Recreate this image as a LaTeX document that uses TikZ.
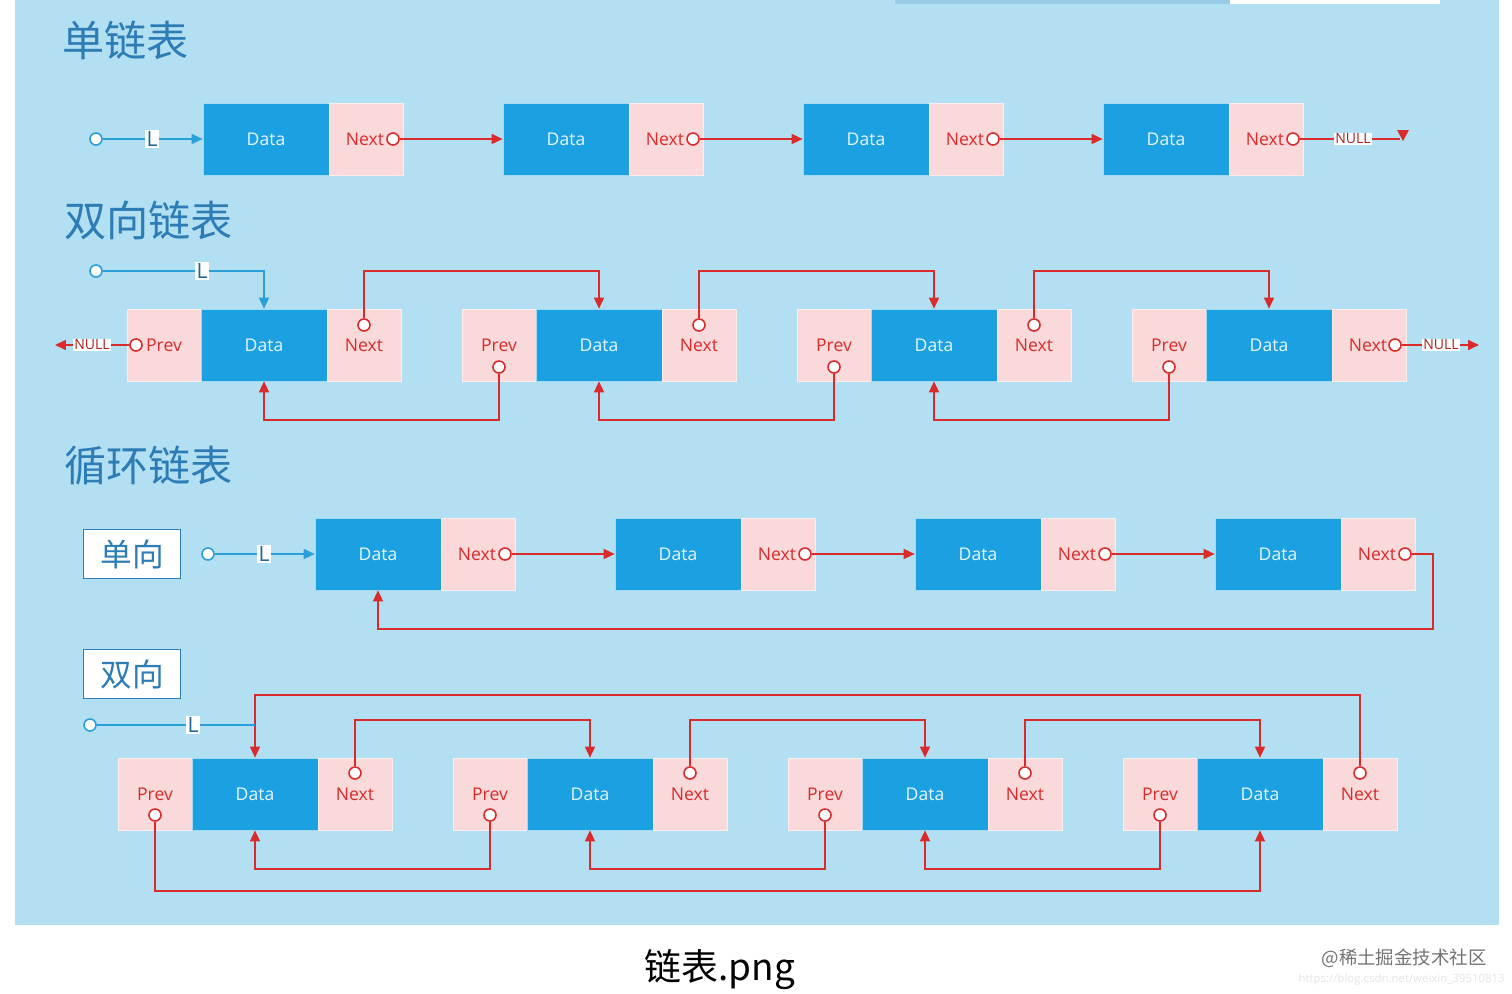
\documentclass[tikz,border=0pt]{standalone}
\usepackage{fontspec}
\setmainfont{Open Sans}
\newfontfamily\cjk{Noto Sans CJK SC}
\usetikzlibrary{arrows.meta,calc}
\definecolor{bgc}{HTML}{B3DFF2}
\definecolor{datac}{HTML}{1BA0E1}
\definecolor{pinkc}{HTML}{F9D9DA}
\definecolor{redc}{HTML}{D92B2B}
\definecolor{titlec}{HTML}{2C7DB5}
\definecolor{lblue}{HTML}{2A9FD8}
\begin{document}
\begin{tikzpicture}[x=0.02cm,y=-0.02cm,
  data/.style={rectangle,fill=datac,draw=white!60!datac,line width=0.4pt,minimum width=2.52cm,minimum height=1.44cm,inner sep=0,text=white!90!datac,font=\fontsize{10}{12}\selectfont},
  ptr/.style={rectangle,fill=pinkc,draw=white!50!pinkc,line width=0.4pt,minimum width=1.48cm,minimum height=1.44cm,inner sep=0},
  lab/.style={text=redc,font=\fontsize{10}{12}\selectfont,inner sep=0},
  dot/.style={circle,draw=redc,fill=white,line width=0.9pt,minimum size=0.24cm,inner sep=0},
  bdot/.style={circle,draw=lblue,fill=white,line width=0.9pt,minimum size=0.24cm,inner sep=0},
  ra/.style={draw=redc,line width=0.9pt,-{Triangle[length=0.22cm,width=0.2cm]}},
  rl/.style={draw=redc,line width=0.9pt},
  ba/.style={draw=lblue,line width=0.9pt,-{Triangle[length=0.22cm,width=0.2cm]}},
  bl/.style={draw=lblue,line width=0.9pt},
  Lbl/.style={fill=white,text=titlec!80!black,inner sep=0.8pt,font=\fontsize{12}{12}\selectfont},
  nul/.style={fill=white,text=redc!80!black,inner sep=0.6pt,font=\fontsize{8}{8}\selectfont},
  title/.style={text=titlec,anchor=west,inner sep=0,font=\cjk\fontsize{24}{26}\selectfont},
  tag/.style={rectangle,draw=titlec,fill=white,line width=1pt,minimum width=1.94cm,minimum height=0.98cm,text=titlec,font=\cjk\fontsize{18}{20}\selectfont}]
\useasboundingbox (0,0) rectangle (1512,994);
\fill[white] (0,0) rectangle (1512,994);
\fill[bgc] (15,0) rectangle (1499,925);
\fill[titlec!20!bgc] (895,0) rectangle (1230,4);
\fill[white] (1230,0) rectangle (1440,4);

% titles
\node[title] (t1) at (62,40) {单链表};
\node[title] (t2) at (64,220) {双向链表};
\node[title] (t3) at (64,466) {循环链表};

% ---------- single list ----------
\foreach \i/\x in {1/203,2/503,3/803,4/1103}{
  \node[data] (a\i) at (\x+63,139) {Data};
  \node[ptr] (an\i) at (\x+163,139) {};
  \node[lab] (ant\i) at (\x+162,139) {Next};
  \node[dot] (ac\i) at (\x+190,139) {};
}
\foreach \i [evaluate=\i as \j using int(\i+1)] in {1,2,3}{
  \draw[ra] (ac\i) -- (a\j.west);
}
\node[bdot] (s0) at (96,139) {};
\node[Lbl] (sL) at (152,139) {L};
\draw[bl] (s0) -- (sL);
\draw[ba] (sL) -- (a1.west);
\node[nul] (sn) at (1353,139) {NULL};
\coordinate (send) at (1400,139);
\draw[rl] (ac4) -- (sn) -- (send);
\fill[redc] (1397,130) -- (1409,130) -- (1403,141) -- cycle;

% ---------- doubly list ----------
\coordinate (y2a) at (0,271);
\coordinate (y2b) at (0,420);
\foreach \i/\x in {1/127,2/462,3/797,4/1132}{
  \node[ptr] (bp\i) at (\x+37,345) {};
  \node[data] (bd\i) at (\x+137,345) {Data};
  \node[ptr] (bn\i) at (\x+237,345) {};
}
\foreach \i in {2,3,4}{
  \node[lab] (bpt\i) at (bp\i) {Prev};
  \node[dot] (bpc\i) at ($(bp\i)+(0,22)$) {};
}
\foreach \i in {1,2,3}{
  \node[lab] (bnt\i) at (bn\i) {Next};
  \node[dot] (bnc\i) at ($(bn\i)+(0,-20)$) {};
}
\node[lab] (bpt1) at (164,345) {Prev};
\node[dot] (bpc1) at (136,345) {};
\node[lab] (bnt4) at (1368,345) {Next};
\node[dot] (bnc4) at (1395,345) {};
\foreach \i [evaluate=\i as \j using int(\i+1)] in {1,2,3}{
  \draw[ra] (bnc\i.north) -- (bnc\i |- y2a) -| (bd\j.north);
  \draw[ra] (bpc\j.south) -- (bpc\j |- y2b) -| (bd\i.south);
}
\node[nul] (bnl) at (92,345) {NULL};
\coordinate (bnle) at (55,345);
\draw[rl] (bpc1) -- (bnl);
\draw[ra] (bnl) -- (bnle);
\node[nul] (bnr) at (1441,345) {NULL};
\coordinate (bnre) at (1479,345);
\draw[rl] (bnc4) -- (bnr);
\draw[ra] (bnr) -- (bnre);
\node[bdot] (d0) at (96,271) {};
\node[Lbl] (dL) at (202,271) {L};
\draw[bl] (d0) -- (dL);
\draw[ba] (dL) -- (dL -| bd1) -- (bd1.north);

% ---------- circular single ----------
\node[tag] (tg1) at (132,554) {单向};
\node[tag] (tg2) at (132,674) {双向};
\foreach \i/\x in {1/315,2/615,3/915,4/1215}{
  \node[data] (c\i) at (\x+63,554) {Data};
  \node[ptr] (cn\i) at (\x+163,554) {};
  \node[lab] (cnt\i) at (\x+162,554) {Next};
  \node[dot] (cc\i) at (\x+190,554) {};
}
\foreach \i [evaluate=\i as \j using int(\i+1)] in {1,2,3}{
  \draw[ra] (cc\i) -- (c\j.west);
}
\coordinate (r1) at (1433,554);
\coordinate (r2) at (1433,629);
\draw[ra] (cc4) -- (r1) -- (r2) -| (c1.south);
\node[bdot] (c0) at (208,554) {};
\node[Lbl] (cL) at (264,554) {L};
\draw[bl] (c0) -- (cL);
\draw[ba] (cL) -- (c1.west);

% ---------- circular doubly ----------
\coordinate (y4a) at (0,720);
\coordinate (y4b) at (0,869);
\coordinate (y4c) at (0,695);
\coordinate (y4d) at (0,891);
\foreach \i/\x in {1/118,2/453,3/788,4/1123}{
  \node[ptr] (dp\i) at (\x+37,794) {};
  \node[lab] (dpt\i) at (\x+37,794) {Prev};
  \node[dot] (dpc\i) at (\x+37,815) {};
  \node[data] (dd\i) at (\x+137,794) {Data};
  \node[ptr] (dn\i) at (\x+237,794) {};
  \node[lab] (dnt\i) at (\x+237,794) {Next};
  \node[dot] (dnc\i) at (\x+237,773) {};
}
\foreach \i [evaluate=\i as \j using int(\i+1)] in {1,2,3}{
  \draw[ra] (dnc\i.north) -- (dnc\i |- y4a) -| (dd\j.north);
  \draw[ra] (dpc\j.south) -- (dpc\j |- y4b) -| (dd\i.south);
}
\draw[ra] (dnc4.north) -- (dnc4 |- y4c) -| (dd1.north);
\draw[ra] (dpc1.south) -- (dpc1 |- y4d) -| (dd4.south);
\node[bdot] (e0) at (90,725) {};
\node[Lbl] (eL) at (193,725) {L};
\coordinate (eJ) at (255,725);
\draw[bl] (e0) -- (eL) -- (eJ);

% caption
\node[font=\cjk\fontsize{21}{24}\selectfont,text=black] (cap) at (720,970) {链表.png};
\node[font=\cjk\fontsize{10.5}{12}\selectfont,text=black!55,anchor=east,inner sep=0] (wm) at (1487,958) {@稀土掘金技术社区};
\node[font=\fontsize{6.5}{8}\selectfont,text=black!10,anchor=east,inner sep=0] (url) at (1505,980) {https://blog.csdn.net/weixin\_39510813};
\end{tikzpicture}
\end{document}
